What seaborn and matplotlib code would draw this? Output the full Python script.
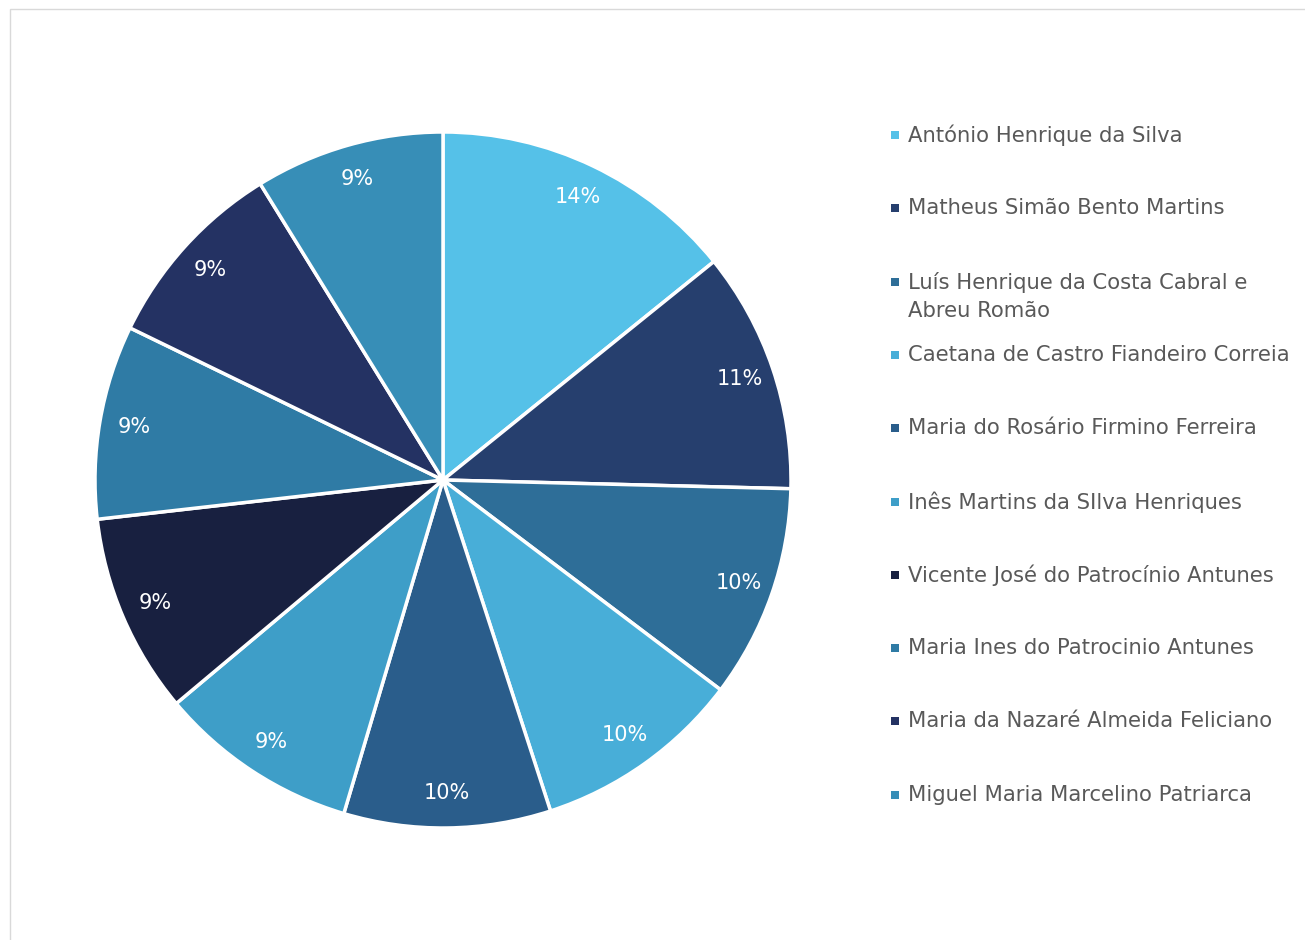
import matplotlib
matplotlib.use("Agg")
import matplotlib.pyplot as plt
from matplotlib.patches import Rectangle
import seaborn as sns

names = [
    "António Henrique da Silva",
    "Matheus Simão Bento Martins",
    "Luís Henrique da Costa Cabral e\nAbreu Romão",
    "Caetana de Castro Fiandeiro Correia",
    "Maria do Rosário Firmino Ferreira",
    "Inês Martins da SIlva Henriques",
    "Vicente José do Patrocínio Antunes",
    "Maria Ines do Patrocinio Antunes",
    "Maria da Nazaré Almeida Feliciano",
    "Miguel Maria Marcelino Patriarca",
]
shares = [14.2, 11.2, 9.9, 9.7, 9.6, 9.3, 9.3, 9.0, 9.0, 8.8]
colors = ["#55c1e8", "#263f6e", "#2e6e98", "#48aed8", "#2a5d8b",
          "#3e9ec8", "#182040", "#2f7ba5", "#243263", "#378eb7"]

sns.set_theme(style="white")
plt.rcParams["font.family"] = ["DejaVu Sans"]
palette = sns.color_palette(colors)

W, H = 1305, 940
fig = plt.figure(figsize=(W / 100, H / 100), dpi=100)

# chart area border (cropped at right and bottom)
fig.add_artist(Rectangle((10 / W, -0.05), 1.2, (H - 9) / H + 0.05,
                         transform=fig.transFigure, fill=False,
                         edgecolor="#d9d9d9", linewidth=1))

cx, cy, r = 443, 480, 348
ax = fig.add_axes([(cx - r) / W, (H - cy - r) / H, 2 * r / W, 2 * r / H])
wedges, texts, autotexts = ax.pie(
    shares, colors=palette, startangle=90, counterclock=False,
    autopct="%1.0f%%", pctdistance=0.9,
    wedgeprops=dict(edgecolor="white", linewidth=2.5),
    textprops=dict(color="white", fontsize=15))
ax.set_xlim(-1, 1)
ax.set_ylim(-1, 1)
ax.set_aspect("equal")
ax.axis("off")

# legend drawn by hand so the wrapped entry keeps an even row slot
y0, step = 135, 73.3
for i, (name, col) in enumerate(zip(names, palette)):
    y = y0 + i * step
    fig.add_artist(Rectangle((891 / W, (H - y - 4) / H), 8 / W, 8 / H,
                             transform=fig.transFigure, color=col, lw=0))
    fig.text(908 / W, (H - y + 10) / H, name, color="#595959",
             fontsize=15.2, va="top", ha="left", linespacing=1.55)

fig.savefig("out.png", dpi=100)
